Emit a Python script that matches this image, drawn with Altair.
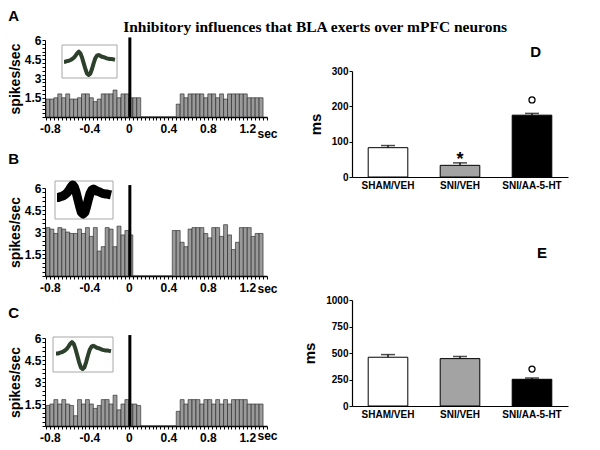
import altair as alt
import pandas as pd

TITLE = "Inhibitory influences that BLA exerts over mPFC neurons"
FONT = "Liberation Sans"

# ---------------- histogram data (PSTH, 0.04 s bins) ----------------
bin_width = 0.04
bin_start = [-0.84, -0.80, -0.76, -0.72, -0.68, -0.64, -0.60, -0.56, -0.52, -0.48,
             -0.44, -0.40, -0.36, -0.32, -0.28, -0.24, -0.20, -0.16, -0.12, -0.08,
             -0.04, 0.00, 0.04, 0.08, 0.12, 0.16, 0.20, 0.24, 0.28, 0.32,
             0.36, 0.40, 0.44, 0.48, 0.52, 0.56, 0.60, 0.64, 0.68, 0.72,
             0.76, 0.80, 0.84, 0.88, 0.92, 0.96, 1.00, 1.04, 1.08, 1.12,
             1.16, 1.20, 1.24, 1.28, 1.32]

rate_a = [1.4, 1.4, 1.5, 1.8, 1.5, 1.8, 1.4, 1.4, 1.5, 1.8, 1.8, 1.5, 1.2, 1.4, 1.8, 1.8,
          1.8, 2.1, 1.5, 1.8, 1.8, 1.5, 1.5, 1.5,
          0, 0, 0, 0, 0, 0, 0, 0, 0,
          1.0, 1.8, 1.5, 1.8, 1.8, 1.8, 1.8, 1.5, 1.8, 1.8, 1.5, 1.8, 1.4, 1.8, 1.8, 1.8,
          1.8, 1.8, 1.5, 1.5, 1.5, 1.5]

rate_b = [3.3, 3.2, 2.9, 3.3, 3.2, 3.0, 2.9, 2.9, 3.2, 2.9, 3.3, 2.7, 3.3, 1.7, 2.0, 3.3,
          3.2, 2.0, 3.4, 2.8, 3.1, 2.8,
          0, 0, 0, 0, 0, 0, 0, 0, 0, 0,
          3.1, 3.1, 2.3, 2.0, 3.2, 3.3, 3.3, 3.3, 2.9, 2.6, 3.3, 3.3, 2.7, 3.5, 2.8, 1.8,
          2.3, 3.3, 3.3, 3.3, 2.7, 2.9, 2.9]

rate_c = [1.4, 1.5, 1.8, 1.5, 1.8, 1.5, 1.4, 0.7, 1.8, 1.5, 1.8, 1.5, 1.2, 1.4, 1.8, 1.8,
          1.5, 2.1, 1.1, 1.5, 1.8, 1.5, 1.5, 1.4,
          0, 0, 0, 0, 0, 0, 0, 0, 0,
          1.0, 1.8, 1.5, 1.8, 1.8, 1.8, 1.5, 1.8, 1.8, 1.5, 1.8, 1.5, 1.8, 1.5, 1.8, 1.8,
          1.8, 1.8, 1.5, 1.5, 1.5, 1.5]

stim_time = [0.01]
stim_peak = [6.2]

# spike waveform (inset), arbitrary amplitude units
wave_amp = [0, 0, 2, 3, 5, 8, 12, 18, 25, 30, 25, 12, -5, -22, -36, -40,
            -36, -22, -5, 10, 18, 20, 18, 15, 14, 12, 10, 9, 8, 8, 7, 6]

# ---------------- bar chart data ----------------
groups = ["SHAM/VEH", "SNI/VEH", "SNI/AA-5-HT"]
fills = ["white", "#a3a3a3", "black"]
d_mean = [83, 33, 175]
d_err = [6, 7, 5]
e_mean = [460, 447, 252]
e_err = [25, 20, 12]
d_marks_group = ["SNI/VEH", "SNI/AA-5-HT"]
d_marks_value = [60, 218]
d_marks_symbol = ["*", "o"]
e_marks_group = ["SNI/AA-5-HT"]
e_marks_value = [348]
e_marks_symbol = ["o"]

HW = 222  # histogram plot width
x_ticks = [round(-0.84 + 0.04 * i, 2) for i in range(57)]
y_ticks = [round(0.3 * i, 1) for i in range(21)]
x_lab = "indexof(['-0.8','-0.4','0','0.4','0.8','1.2'], toString(datum.value)) >= 0 ? toString(datum.value) : ''"
y_lab = "indexof(['1.5','3','4.5','6'], toString(datum.value)) >= 0 ? toString(datum.value) : ''"


def hist_panel(label, rates, height, title_offset, sec_y, wave_color, wave_width,
               wave_xr, wave_yr, box):
    df = pd.DataFrame({"t": bin_start, "rate": rates})
    xscale = alt.Scale(domain=[-0.85, 1.40], nice=False, zero=False)
    yscale = alt.Scale(domain=[0, 6], nice=False)
    xaxis = alt.Axis(values=x_ticks, tickCount=len(x_ticks), labelExpr=x_lab, title="sec",
                     titleAngle=0, titleAlign="left", titleBaseline="middle",
                     titleX=HW - 10, titleY=sec_y,
                     titleFont=FONT, titleFontSize=12, titleFontWeight="bold",
                     titleColor="black", tickSize=3, tickColor="black", domainColor="black",
                     domainWidth=1.5, labelFont=FONT, labelFontSize=12, labelFontWeight="bold",
                     labelColor="black", labelPadding=3, labelOverlap=False, labelFlush=False,
                     grid=False)
    yaxis = alt.Axis(values=y_ticks, tickCount=len(y_ticks), labelExpr=y_lab,
                     title="spikes/sec", titleFont=FONT,
                     titleFontSize=14, titleFontWeight="bold", titleColor="black",
                     titlePadding=2, tickSize=3, tickColor="black", domainColor="black",
                     labelFont=FONT, labelFontSize=12, labelFontWeight="bold",
                     labelColor="black", labelPadding=1, labelOverlap=False, grid=False)
    bars = alt.Chart(df).transform_calculate(t2=f"datum.t + {bin_width}").mark_bar(
        fill="#9a9a9a", stroke="#1e1e1e", strokeWidth=0.6).encode(
        x=alt.X("t:Q", scale=xscale, axis=xaxis),
        x2="t2:Q",
        y=alt.Y("rate:Q", scale=yscale, axis=yaxis),
        y2=alt.datum(0),
    )
    spike = alt.Chart(pd.DataFrame({"t": stim_time, "lo": [0], "hi": stim_peak})).mark_rule(
        color="black", strokeWidth=3, clip=False).encode(x="t:Q", y="lo:Q", y2="hi:Q")
    main = alt.layer(bars, spike)

    frame = alt.Chart(alt.Data(values=[{}])).mark_rect(
        fill="white", stroke="#a8a8a8", strokeWidth=1).encode(
        x=alt.value(box[0]), x2=alt.value(box[1]), y=alt.value(box[2]), y2=alt.value(box[3]))
    wdf = pd.DataFrame({"i": list(range(len(wave_amp))), "amp": wave_amp})
    wave = alt.Chart(wdf).mark_line(color=wave_color, strokeWidth=wave_width,
                                    strokeJoin="round", clip=False).encode(
        x=alt.X("i:Q", axis=None,
                scale=alt.Scale(domain=[0, len(wave_amp) - 1], range=wave_xr, nice=False, zero=False)),
        y=alt.Y("amp:Q", axis=None,
                scale=alt.Scale(domain=[-40, 30], range=wave_yr, nice=False, zero=False)),
    )
    inset = alt.layer(frame, wave)
    return alt.layer(main, inset).resolve_scale(x="independent", y="independent").properties(
        width=HW, height=height,
        title=alt.TitleParams(label, anchor="start", frame="bounds", font=FONT, fontSize=15,
                              fontWeight="bold", color="black", offset=title_offset))


A = hist_panel("A", rate_a, 77, 10, 16, "#2c402b", 4, [19, 70], [35, 11.7], [17, 72, 5, 38])
B = hist_panel("B", rate_b, 88, 14, 12, "black", 9, [12, 66], [26, -3], [10, 68, -7, 31])
C = hist_panel("C", rate_c, 88, 11, 9, "#2c402b", 4, [11, 66], [31, 4], [8, 68, -1, 34])


def bar_panel(label, means, errs, mk_groups, mk_values, mk_symbols, domain, ticks,
              title_offset, title_dx):
    df = pd.DataFrame({"group": groups, "mean": means,
                       "top": [m + e for m, e in zip(means, errs)]})
    xenc = alt.X("group:N", sort=groups,
                 scale=alt.Scale(paddingInner=0.45, paddingOuter=0.225),
                 axis=alt.Axis(title=None, labelAngle=0, ticks=False, domainColor="black",
                               domainWidth=1.2, labelFont=FONT, labelFontSize=10,
                               labelFontWeight="bold", labelColor="black", labelPadding=3))
    yscale = alt.Scale(domain=domain, nice=False)
    yaxis = alt.Axis(values=ticks, tickCount=len(ticks), format="d", title="ms",
                     titleFont=FONT, titleFontSize=15,
                     titleFontWeight="bold", titleColor="black", titlePadding=8,
                     tickSize=3, tickColor="black", domainColor="black", domainWidth=1.2,
                     labelFont=FONT, labelFontSize=10, labelFontWeight="bold",
                     labelColor="black", labelPadding=1, grid=False)
    bars = alt.Chart(df).mark_bar(stroke="black", strokeWidth=1).encode(
        x=xenc,
        y=alt.Y("mean:Q", scale=yscale, axis=yaxis),
        fill=alt.Fill("group:N", scale=alt.Scale(domain=groups, range=fills), legend=None),
    )
    err = alt.Chart(df).mark_rule(color="black", strokeWidth=1.3).encode(
        x=alt.X("group:N", sort=groups), y="mean:Q", y2="top:Q")
    cap = alt.Chart(df).mark_tick(color="black", thickness=1.5, size=14).encode(
        x=alt.X("group:N", sort=groups), y="top:Q")
    mdf = pd.DataFrame({"group": mk_groups, "v": mk_values, "s": mk_symbols})
    star = alt.Chart(mdf).transform_filter("datum.s == '*'").mark_text(
        font=FONT, fontSize=18, fontWeight="bold", color="black", baseline="middle", dy=4).encode(
        x=alt.X("group:N", sort=groups), y="v:Q", text="s:N")
    circ = alt.Chart(mdf).transform_filter("datum.s == 'o'").mark_point(
        shape="circle", filled=False, size=36, color="black", strokeWidth=1.3, opacity=1).encode(
        x=alt.X("group:N", sort=groups), y="v:Q")
    return alt.layer(bars, err, cap, star, circ).properties(
        width=216, height=106,
        title=alt.TitleParams(label, anchor="end", frame="group", dx=title_dx, font=FONT,
                              fontSize=15, fontWeight="bold", color="black",
                              offset=title_offset))


D = bar_panel("D", d_mean, d_err, d_marks_group, d_marks_value, d_marks_symbol,
              [0, 300], [0, 100, 200, 300], 6, -27)
E = bar_panel("E", e_mean, e_err, e_marks_group, e_marks_value, e_marks_symbol,
              [0, 1000], [0, 250, 500, 750, 1000], 34, -21)

spacer = alt.Chart(alt.Data(values=[{}])).mark_point(opacity=0).properties(width=10, height=1)

left = alt.vconcat(A, B, C, spacing=12)
right = alt.vconcat(spacer, alt.vconcat(D, E, spacing=56), spacing=1)

chart = alt.hconcat(left, right, spacing=24).properties(
    title=alt.TitleParams(TITLE, font="Liberation Serif", fontSize=15.5, fontWeight="bold",
                          color="black", anchor="middle", offset=-26, dx=27),
    padding={"left": 0, "top": 1, "right": 5, "bottom": 5},
).configure_view(stroke=None)

chart.save("out.html", embed_options={"renderer": "svg", "actions": False})
